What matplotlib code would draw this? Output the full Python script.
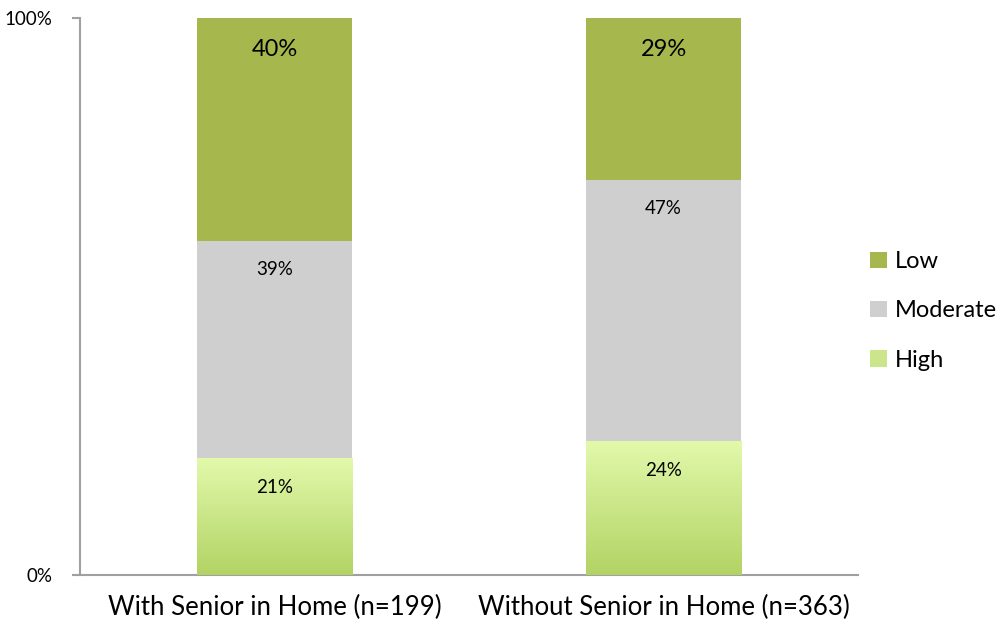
import numpy as np
import matplotlib.pyplot as plt
from matplotlib.colors import LinearSegmentedColormap

plt.rcParams['font.family'] = ['Lato', 'DejaVu Sans']

groups = ['With Senior in Home (n=199)', 'Without Senior in Home (n=363)']
high = [21, 24]
moderate = [39, 47]
low = [40, 29]

c_low = '#A6B74D'
c_mod = '#CFCFCF'
c_high_top = '#E2F9AB'
c_high_bot = '#B2D364'
c_high_mid = '#CBE68A'

fig = plt.figure(figsize=(10.05, 6.27), dpi=100)
ax = fig.add_axes([80/1005, 1-575/627, 778/1005, 557/627])

x = np.arange(len(groups))
w = 0.40
hb = ax.bar(x, high, w, color=c_high_mid, label='High', zorder=2)
mb = ax.bar(x, moderate, w, bottom=high, color=c_mod, label='Moderate', zorder=2)
lb = ax.bar(x, low, w, bottom=np.array(high) + np.array(moderate), color=c_low, label='Low', zorder=2)

# gradient fill for the High segments
cmap = LinearSegmentedColormap.from_list('hg', [c_high_bot, c_high_top])
grad = np.linspace(0, 1, 256).reshape(-1, 1)
for r in hb:
    x0, y0 = r.get_x(), r.get_y()
    im = ax.imshow(grad, cmap=cmap, origin='lower', aspect='auto',
                   extent=[x0, x0 + r.get_width(), y0, y0 + r.get_height()], zorder=3)
    im.set_clip_path(r)

for i in range(len(groups)):
    ax.text(x[i], high[i] - 3.7, f'{high[i]}%', ha='center', va='top', fontsize=13.5, zorder=4)
    ax.text(x[i], high[i] + moderate[i] - 3.7, f'{moderate[i]}%', ha='center', va='top', fontsize=13.5, zorder=4)
    ax.text(x[i], 100 - 3.8, f'{low[i]}%', ha='center', va='top', fontsize=17, zorder=4)

ax.set_xlim(-0.5, 1.5)
ax.set_ylim(0, 100)
ax.set_xticks(x)
ax.set_xticklabels(groups, fontsize=18.5)
ax.set_yticks([0, 100])
ax.set_yticklabels(['0%', '100%'], fontsize=13.5)
ax.tick_params(axis='x', length=0, pad=14)
ax.tick_params(axis='y', length=6, color='#A0A0A0', width=1.5, pad=14)
for s in ['top', 'right']:
    ax.spines[s].set_visible(False)
for s in ['left', 'bottom']:
    ax.spines[s].set_color('#A0A0A0')
    ax.spines[s].set_linewidth(1.5)

handles = [lb, mb, hb]
leg = fig.legend(handles, ['Low', 'Moderate', 'High'], loc='center left',
                 bbox_to_anchor=(870/1005, 1-311/627), frameon=False, fontsize=17,
                 handlelength=0.7, handleheight=0.7, handletextpad=0.35, labelspacing=1.2,
                 borderpad=0, borderaxespad=0)

fig.savefig('out.png', dpi=100)
